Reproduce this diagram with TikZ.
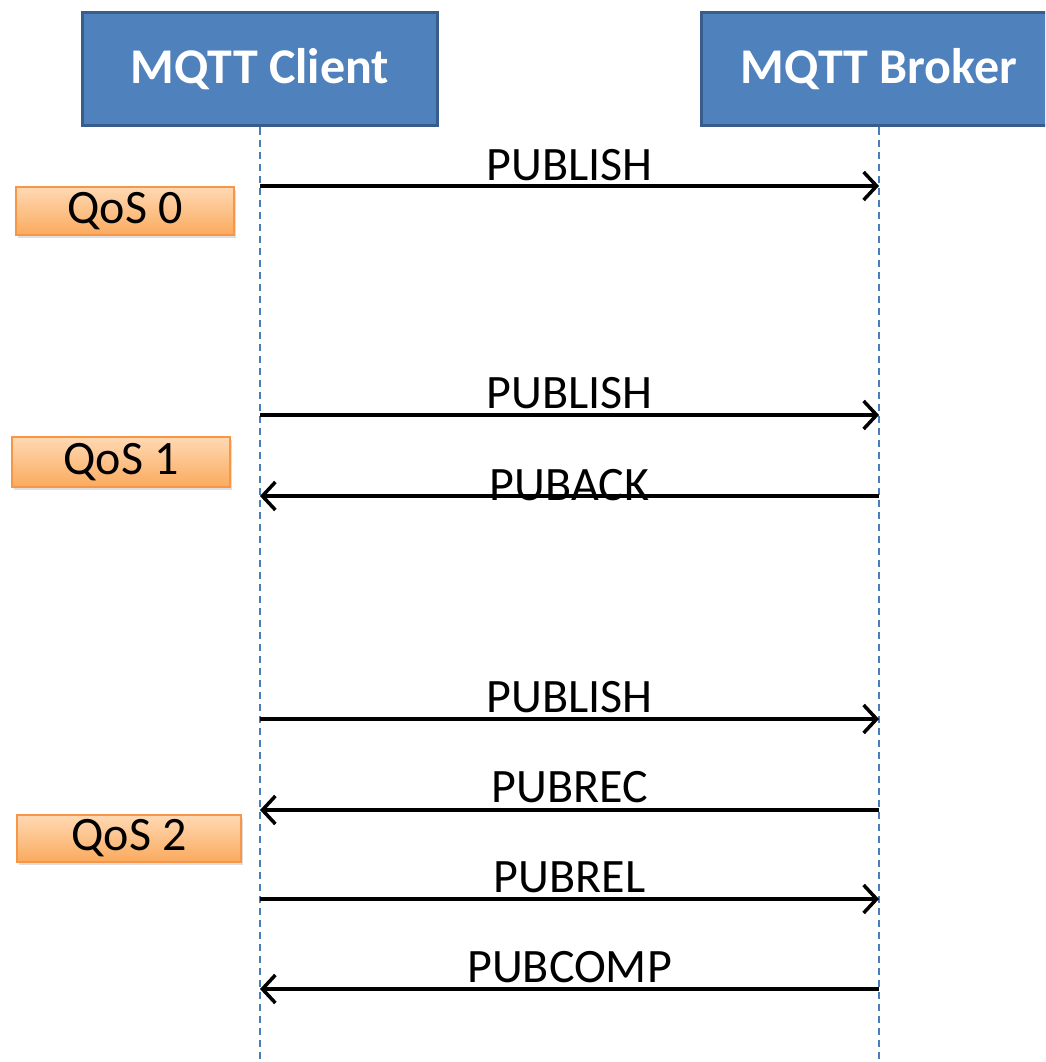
\documentclass[tikz,border=0pt]{standalone}
\usepackage{fontspec}
\setmainfont{Carlito}
\usetikzlibrary{arrows.meta}
\usetikzlibrary{shadows}
\usepackage{xcolor}

\definecolor{actorfill}{HTML}{4F81BD}
\definecolor{actoredge}{HTML}{385D8A}
\definecolor{lifeblue}{HTML}{4A7EBB}
\definecolor{qosedge}{HTML}{F79646}
\definecolor{qostop}{HTML}{FFD9B3}
\definecolor{qosbottom}{HTML}{FAAA5E}

\tikzset{
  actor/.style={draw=actoredge, line width=3pt, fill=actorfill, text=white,
    minimum width=355pt, minimum height=113pt, inner sep=0pt,
    font=\fontsize{50}{60}\selectfont\bfseries},
  qos/.style={draw=qosedge, line width=2pt, top color=qostop, bottom color=qosbottom,
    minimum height=48pt, inner sep=0pt, font=\fontsize{48}{56}\selectfont,
    drop shadow={opacity=0.25, shadow xshift=2pt, shadow yshift=-3pt}},
  lifeline/.style={draw=lifeblue, line width=2pt, dash pattern=on 7pt off 5pt},
  msg/.style={line width=3.5pt, -{Straight Barb[length=13pt, width=28pt, line width=3.5pt]}},
  msglabel/.style={font=\fontsize{48}{56}\selectfont, anchor=base, inner sep=0pt}
}

\begin{document}
\begin{tikzpicture}[x=1pt, y=-1pt]
  \useasboundingbox (0,0) rectangle (1045,1062);
  \clip (0,0) rectangle (1045,1062);

  % participants
  \node[actor] (cl) at (260,69.5) {MQTT Client};
  \node[actor] (br) at (879,69.5) {MQTT Broker};

  \coordinate (clend) at (cl.south |- 0,1062);
  \coordinate (brend) at (br.south |- 0,1062);
  \draw[lifeline] (cl.south) -- (clend);
  \draw[lifeline] (br.south) -- (brend);

  % qos levels
  \node[qos, minimum width=218pt] (q0) at (125,211) {QoS 0};
  \node[qos, minimum width=218pt, minimum height=50pt] (q1) at (121,462) {QoS 1};
  \node[qos, minimum width=224pt, minimum height=47pt] (q2) at (129,838.5) {QoS 2};

  % messages
  \foreach \y/\from/\to/\txt/\up [count=\i] in {186/c/b/PUBLISH/6, 415/c/b/PUBLISH/7,
      496/b/c/PUBACK/-4, 719/c/b/PUBLISH/7, 810/b/c/PUBREC/8, 899/c/b/PUBREL/7,
      989/b/c/PUBCOMP/7}{
    \coordinate (c\i) at (cl.south |- 0,\y);
    \coordinate (b\i) at (br.south |- 0,\y);
    \draw[msg] (\from\i) -- (\to\i) node[midway, msglabel, yshift=\up pt] {\txt};
  }
\end{tikzpicture}
\end{document}
